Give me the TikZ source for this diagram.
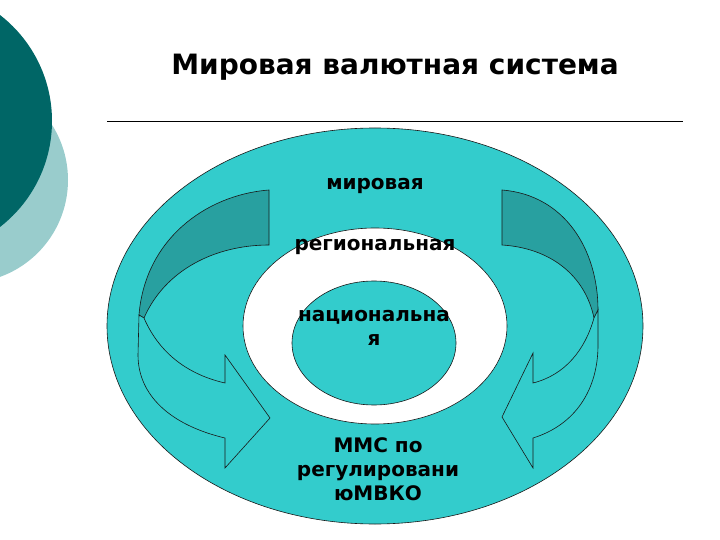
\documentclass[tikz,border=0pt]{standalone}
\usepackage{fontspec}
\setmainfont{DejaVu Sans}
\definecolor{turq}{RGB}{51,204,204}
\definecolor{turqdark}{RGB}{40,160,160}
\definecolor{tealdark}{RGB}{0,102,102}
\definecolor{teallight}{RGB}{153,204,204}
\tikzset{
  ringtext/.style={font=\bfseries\fontsize{20}{24}\selectfont, align=center, inner sep=0pt},
  outline/.style={draw=black!90, line width=0.6pt}
}
\begin{document}
\begin{tikzpicture}[x=1pt,y=-1pt]
    \useasboundingbox (0,0) rectangle (720,540);

    % Decorative circles, top left
    \begin{scope}
        \clip (0,0) rectangle (720,540);
        \fill[teallight] (-35,180) circle[radius=103pt];
        \fill[tealdark] (-82,121) circle[radius=134pt];
    \end{scope}

    % Title and rule
    \node[font=\bfseries\fontsize{28}{32}\selectfont] (title) at (395,67) {Мировая валютная система};
    \draw[line width=0.7pt] (107,121) -- (683,121);

    % Rings
    \fill[turq, outline] (375,326) ellipse[x radius=268pt, y radius=198pt];
    \fill[white, outline] (375,326) ellipse[x radius=132pt, y radius=98pt];
    \fill[turq, outline] (374,343) ellipse[x radius=82pt, y radius=62pt];

    % Left curved arrow
    \fill[turqdark, outline] (269,190) .. controls (205,195) and (145,240) .. (139,315)
        -- (144,318) .. controls (165,270) and (215,245) .. (269,245) -- cycle;
    \fill[turq, outline] (144,318) .. controls (160,355) and (190,375) .. (225,383)
        -- (225,355) -- (270,418) -- (225,468) -- (225,438)
        .. controls (170,425) and (138,395) .. (138,355) -- (139,315) -- cycle;

    % Right curved arrow
    \fill[turqdark, outline] (502,190) .. controls (565,195) and (598,250) .. (598,310)
        -- (594,318) .. controls (585,275) and (550,248) .. (502,245) -- cycle;
    \fill[turq, outline] (594,318) .. controls (585,350) and (565,375) .. (533,383)
        -- (533,353) -- (502,417) -- (533,468) -- (533,438)
        .. controls (575,425) and (598,390) .. (598,345) -- (598,310) -- cycle;

    % Texts
    \node[ringtext] (world) at (375,186) {мировая};
    \node[ringtext] (region) at (375,247) {региональная};
    \node[ringtext] (nation) at (374,328) {национальна\\я};
    \node[ringtext] (imms) at (378,469) {ММС по\\регулировани\\юМВКО};
\end{tikzpicture}
\end{document}
